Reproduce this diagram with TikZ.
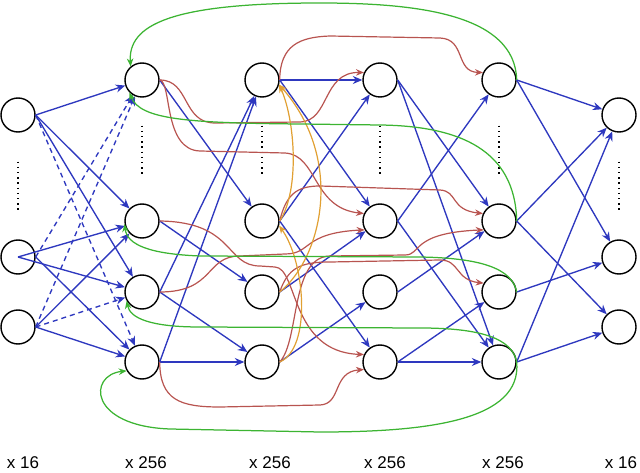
\documentclass[tikz,border=0pt]{standalone}
\usepackage{fontspec}
\setmainfont{Liberation Sans}
\usepackage{tikz}
\usetikzlibrary{arrows.meta,positioning,calc}

\definecolor{linkblue}{RGB}{46,56,191}
\definecolor{skipred}{RGB}{184,84,80}
\definecolor{backgreen}{RGB}{60,180,50}
\definecolor{sideorange}{RGB}{225,160,50}

\begin{document}
\begin{tikzpicture}[x=1pt, y=-1pt,
  neuron/.style={circle, draw, line width=1.4pt, minimum size=34pt, inner sep=0pt},
  lbl/.style={font=\fontsize{17}{20}\selectfont, inner sep=0pt, anchor=base},
  link/.style={-{Stealth[length=9.5pt,width=8pt]}, line width=1.35pt, linkblue},
  linkdash/.style={link, dash pattern=on 5pt off 4pt},
  skiplink/.style={-{Stealth[length=8pt,width=6.5pt]}, line width=1.2pt, skipred},
  backlink/.style={-{Stealth[length=8pt,width=6.5pt]}, line width=1.25pt, backgreen},
  sidelink/.style={-{Stealth[length=8pt,width=6.5pt]}, line width=1.2pt, sideorange},
  dotcol/.style={line width=1.4pt, dash pattern=on 1.3pt off 3.9pt}
]
\useasboundingbox (0,0) rectangle (640,473);

\node[neuron] (i1) at (18,115) {};
\node[neuron] (i2) at (18,257) {};
\node[neuron] (i3) at (18,327) {};

\node[neuron] (a1) at (142,80) {};
\node[neuron] (a2) at (142,221) {};
\node[neuron] (a3) at (142,292) {};
\node[neuron] (a4) at (142,362) {};

\node[neuron] (b1) at (262,80) {};
\node[neuron] (b2) at (262,221) {};
\node[neuron] (b3) at (262,292) {};
\node[neuron] (b4) at (262,362) {};

\node[neuron] (c1) at (380,80) {};
\node[neuron] (c2) at (380,221) {};
\node[neuron] (c3) at (380,292) {};
\node[neuron] (c4) at (380,362) {};

\node[neuron] (d1) at (499,80) {};
\node[neuron] (d2) at (499,221) {};
\node[neuron] (d3) at (499,292) {};
\node[neuron] (d4) at (499,362) {};

\node[neuron] (o1) at (619,115) {};
\node[neuron] (o2) at (619,257) {};
\node[neuron] (o3) at (619,327) {};

\draw[dotcol, shorten <=29pt, shorten >=27pt] (i1.south) -- (i2.north);
\draw[dotcol, shorten <=28pt, shorten >=27pt] (a1.south) -- (a2.north);
\draw[dotcol, shorten <=28pt, shorten >=27pt] (b1.south) -- (b2.north);
\draw[dotcol, shorten <=28pt, shorten >=27pt] (c1.south) -- (c2.north);
\draw[dotcol, shorten <=28pt, shorten >=27pt] (d1.south) -- (d2.north);
\draw[dotcol, shorten <=29pt, shorten >=27pt] (o1.south) -- (o2.north);

\node[lbl] (n0) at (23,468) {x 16};
\node[lbl] (n1) at (146,468) {x 256};
\node[lbl] (n2) at (270,468) {x 256};
\node[lbl] (n3) at (385,468) {x 256};
\node[lbl] (n4) at (503,468) {x 256};
\node[lbl] (n5) at (621,468) {x 16};

\draw[link] (i1.east) -- (a1);
\draw[link] (i1.east) -- (a2);
\draw[link] (i1.east) -- (a3);
\draw[linkdash] (i1.east) -- (a4);
\draw[link] (i2.center) -- (a2);
\draw[link] (i2.center) -- (a3);
\draw[link] (i2.east) -- (a4);
\draw[linkdash] (i2.east) -- (a1);
\draw[link] (i3.east) -- (a2);
\draw[link] (i3.east) -- (a4);
\draw[linkdash] (i3.east) -- (a1);
\draw[linkdash] (i3.east) -- (a3);

\draw[link] (a1.east) -- (b2);
\draw[link] (a2.east) -- (b3);
\draw[link] (a3.east) -- (b1);
\draw[link] (a3.east) -- (b4);
\draw[link] (a4.east) -- (b1);
\draw[link] (a4.east) -- (b4);

\draw[link] (b1.east) -- (c1);
\draw[link] (b1.east) -- (c2);
\draw[link] (b2.east) -- (c1);
\draw[link] (b2.east) -- (c4);
\draw[link] (b3.east) -- (c2);
\draw[link] (b4.east) -- (c3);

\draw[link] (c1.east) -- (d2);
\draw[link] (c1.east) -- (d4);
\draw[link] (c2.east) -- (d1);
\draw[link] (c2.east) -- (d4);
\draw[link] (c3.east) -- (d2);
\draw[link] (c4.east) -- (d3);
\draw[link] (c4.east) -- (d4);

\draw[link] (d1.east) -- (o1);
\draw[link] (d1.east) -- (o2);
\draw[link] (d2.east) -- (o1);
\draw[link] (d2.east) -- (o3);
\draw[link] (d3.east) -- (o2);
\draw[link] (d4.east) -- (o1);
\draw[link] (d4.east) -- (o3);

\draw[skiplink] (a1.east) .. controls (190,80) and (182,123) .. (215,123) -- (300,122) .. controls (330,121) and (322,72) .. (c1.155);
\draw[skiplink] (a1.east) .. controls (172,82) and (163,150) .. (200,151) -- (285,153) .. controls (318,155) and (312,208) .. (c2.155);
\draw[skiplink] (a3.east) .. controls (215,292) and (205,256) .. (240,256) -- (285,254) .. controls (312,254) and (302,233) .. (c2.210);
\draw[skiplink] (a2.east) .. controls (235,222) and (225,266) .. (260,266) -- (275,267) .. controls (298,268) and (290,352) .. (c4.155);
\draw[skiplink] (a4.east) .. controls (160,400) and (180,407) .. (220,407) -- (320,405) .. controls (342,404) and (332,372) .. (c4.205);
\draw[skiplink] (b1.east) .. controls (280,45) and (300,37) .. (330,36) -- (440,38) .. controls (466,39) and (455,72) .. (d1.155);
\draw[skiplink] (b2.east) .. controls (286,195) and (296,186) .. (320,186) -- (440,190) .. controls (458,191) and (450,210) .. (d2.155);
\draw[skiplink] (b3.east) .. controls (288,268) and (300,262) .. (330,262) -- (440,260) .. controls (460,260) and (455,280) .. (d3.150);
\draw[skiplink] (b4.east) .. controls (300,340) and (290,257) .. (330,256) -- (405,255) .. controls (422,255) and (410,233) .. (d2.210);

\draw[sidelink] (b2.east) .. controls (300,190) and (295,120) .. (b1.-15);
\draw[sidelink] (b3.east) .. controls (322,258) and (345,160) .. (b1.-15);
\draw[sidelink] (b4.east) .. controls (312,348) and (305,262) .. (b2.-15);

\draw[backlink] (d1.east) .. controls (515,15) and (420,3) .. (320,3) .. controls (170,3) and (128,25) .. (a1.130);
\draw[backlink] (d2.east) .. controls (515,150) and (460,126) .. (380,125) -- (300,124) .. controls (190,123) and (140,120) .. (a1.-135);
\draw[backlink] (d3.east) .. controls (512,268) and (480,258) .. (420,257) -- (200,256) .. controls (150,254) and (127,245) .. (a2.190);
\draw[backlink] (d4.east) .. controls (512,338) and (480,328) .. (420,328) -- (200,327) .. controls (150,327) and (130,318) .. (a3.-150);
\draw[backlink] (d4.east) .. controls (522,420) and (430,432) .. (320,432) -- (170,429) .. controls (88,426) and (88,375) .. (a4.-150);
\end{tikzpicture}
\end{document}
